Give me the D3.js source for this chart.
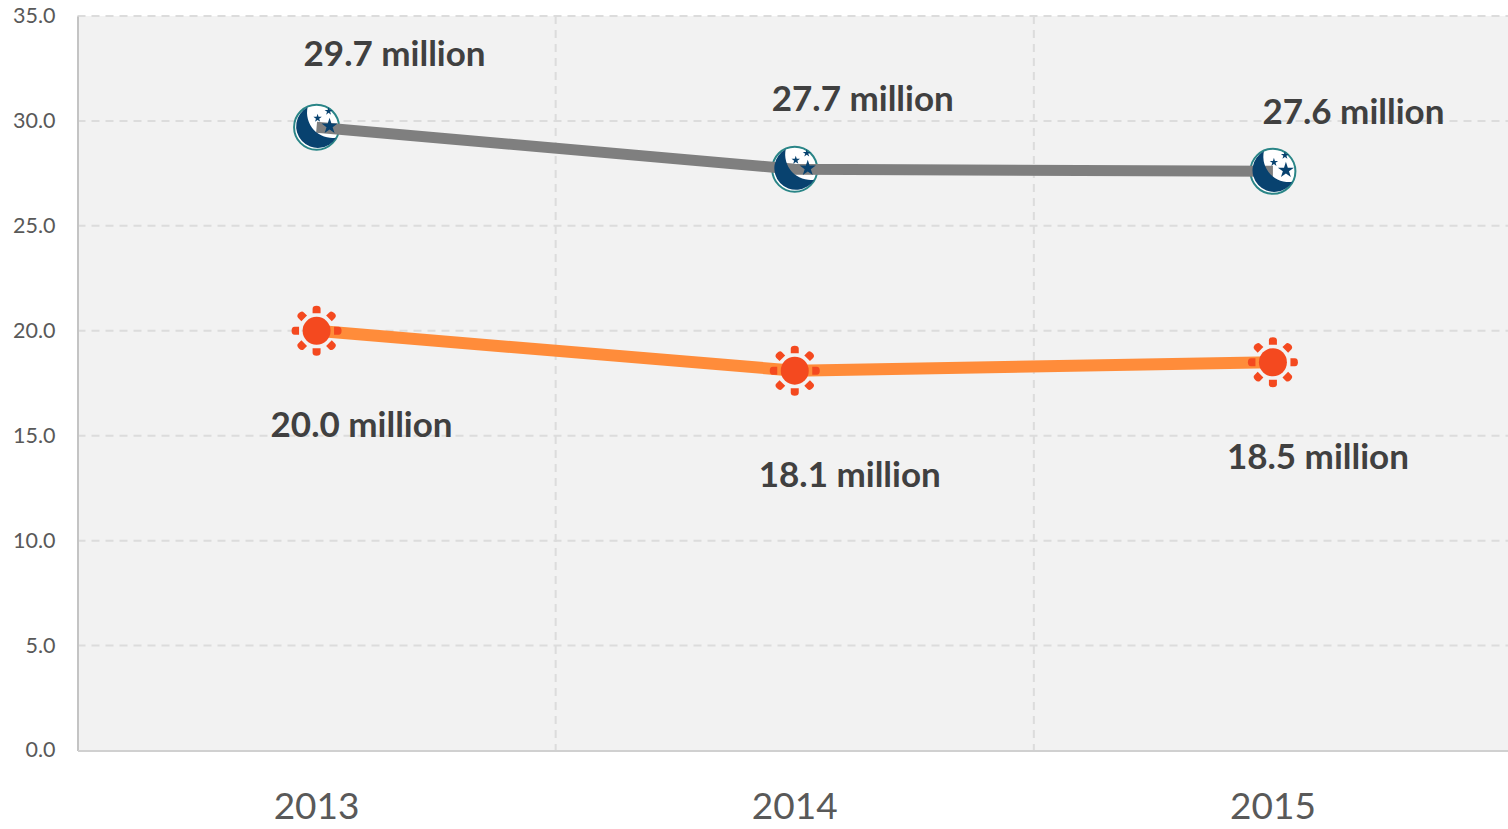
<!DOCTYPE html>
<html>
<head>
<meta charset="utf-8">
<script src="https://cdn.jsdelivr.net/npm/d3@7/dist/d3.min.js"></script>
<style>
  html, body { margin: 0; padding: 0; background: #fff; overflow: hidden; }
  svg { display: block; font-family: Lato, "Open Sans", sans-serif; }
</style>
</head>
<body>
<svg id="chart" width="1508" height="829"></svg>
<script>
const years = ["2013", "2014", "2015"];
const nightValues = [29.7, 27.7, 27.6];
const dayValues = [20.0, 18.1, 18.5];
const yTickValues = [0, 5, 10, 15, 20, 25, 30, 35];

// Hand-placed label offsets from each point, [dx, baseline dy]
const nightLabelOffsets = [[78, -61.5], [68, -58.5], [80.5, -47.5]];
const dayLabelOffsets = [[45, 106.5], [55, 116.5], [45, 106.5]];

const svg = d3.select("#chart");
const plotLeft = 77.5, plotRight = 1512, plotTop = 16, plotBottom = 750.5;

const x = d3.scaleBand().domain(years).range([plotLeft, plotRight]);
const y = d3.scaleLinear().domain([0, 35]).range([plotBottom, plotTop]);
const cx = d => x(d) + x.bandwidth() / 2;

// Plot background
svg.append("rect")
  .attr("x", plotLeft).attr("y", plotTop)
  .attr("width", plotRight - plotLeft).attr("height", plotBottom - plotTop)
  .attr("fill", "#f2f2f2");

// Horizontal gridlines
svg.append("g").selectAll("line")
  .data(yTickValues.filter(v => v > 0))
  .join("line")
  .attr("x1", plotLeft).attr("x2", plotRight)
  .attr("y1", d => y(d)).attr("y2", d => y(d))
  .attr("stroke", "#dcdcdc").attr("stroke-width", 2).attr("stroke-dasharray", "8 6");

// Vertical gridlines sit on the band boundaries
svg.append("g").selectAll("line")
  .data(years.slice(1))
  .join("line")
  .attr("x1", d => x(d)).attr("x2", d => x(d))
  .attr("y1", plotTop).attr("y2", plotBottom)
  .attr("stroke", "#dcdcdc").attr("stroke-width", 2).attr("stroke-dasharray", "8 6");

// Y axis
const yAxis = svg.append("g")
  .attr("transform", `translate(${plotLeft},0)`)
  .call(d3.axisLeft(y).tickValues(yTickValues).tickFormat(d3.format(".1f")).tickSize(0).tickPadding(22));
yAxis.select(".domain").attr("stroke", "#c4c4c4").attr("stroke-width", 2);
yAxis.selectAll("text")
  .attr("font-family", "Lato, sans-serif").attr("font-size", 21.5).attr("fill", "#595959")
  .attr("dy", "0.3em");

// X axis
const xAxis = svg.append("g")
  .attr("transform", `translate(0,${plotBottom})`)
  .call(d3.axisBottom(x).tickSize(0).tickPadding(42));
xAxis.select(".domain").attr("stroke", "#d0d0d0").attr("stroke-width", 2);
xAxis.selectAll("text")
  .attr("font-family", "Lato, sans-serif").attr("font-size", 37).attr("fill", "#595959");

const line = d3.line().x((d, i) => cx(years[i])).y(d => y(d));

// Moon backdrop goes under the grey line; the crescent and stars go over it
const star = d3.symbol().type(d3.symbolStar);
const moonBack = svg.append("g");
moonBack.selectAll("circle")
  .data(nightValues)
  .join("circle")
  .attr("cx", (d, i) => cx(years[i])).attr("cy", d => y(d))
  .attr("r", 22.5)
  .attr("fill", "#ffffff").attr("stroke", "#2a8587").attr("stroke-width", 2);

svg.append("path")
  .datum(nightValues)
  .attr("d", line)
  .attr("fill", "none").attr("stroke", "#7f7f7f").attr("stroke-width", 11);

svg.append("path")
  .datum(dayValues)
  .attr("d", line)
  .attr("fill", "none").attr("stroke", "#ff8c3a").attr("stroke-width", 12);

const moons = svg.append("g").selectAll("g")
  .data(nightValues)
  .join("g")
  .attr("transform", (d, i) => `translate(${cx(years[i])},${y(d)})`);
moons.append("path")
  .attr("d", "M-9,-20 A21.6,21.6 0 1 0 19.5,10.5 A25.4,25.4 0 0 1 -9,-20 Z")
  .attr("fill", "#08426f");
[[13, -1, 80], [1, -9, 22], [12, -16, 20]].forEach(([sx, sy, size]) => {
  moons.append("path")
    .attr("d", star.size(size)())
    .attr("transform", `translate(${sx},${sy})`)
    .attr("fill", "#08426f");
});

// Sun: disc with eight rounded rays
const rayAngles = d3.range(8).map(i => i * 45);
const suns = svg.append("g").selectAll("g")
  .data(dayValues)
  .join("g")
  .attr("transform", (d, i) => `translate(${cx(years[i])},${y(d)})`);
suns.append("circle").attr("r", 14).attr("fill", "#f4491f");
rayAngles.forEach(a => {
  suns.append("path")
    .attr("d", "M-4,-17.5 L4,-17.5 L4,-22 Q4,-25 0,-25 Q-4,-25 -4,-22 Z")
    .attr("transform", `rotate(${a})`)
    .attr("fill", "#f4491f");
});

// Value labels
const fmt = d => `${d.toFixed(1)} million`;
function addLabels(values, offsets) {
  svg.append("g").selectAll("text")
    .data(values)
    .join("text")
    .attr("x", (d, i) => cx(years[i]) + offsets[i][0])
    .attr("y", (d, i) => y(d) + offsets[i][1])
    .attr("text-anchor", "middle")
    .attr("font-size", 35).attr("font-weight", 700).attr("fill", "#404040")
    .text(fmt);
}
addLabels(nightValues, nightLabelOffsets);
addLabels(dayValues, dayLabelOffsets);
</script>
</body>
</html>
